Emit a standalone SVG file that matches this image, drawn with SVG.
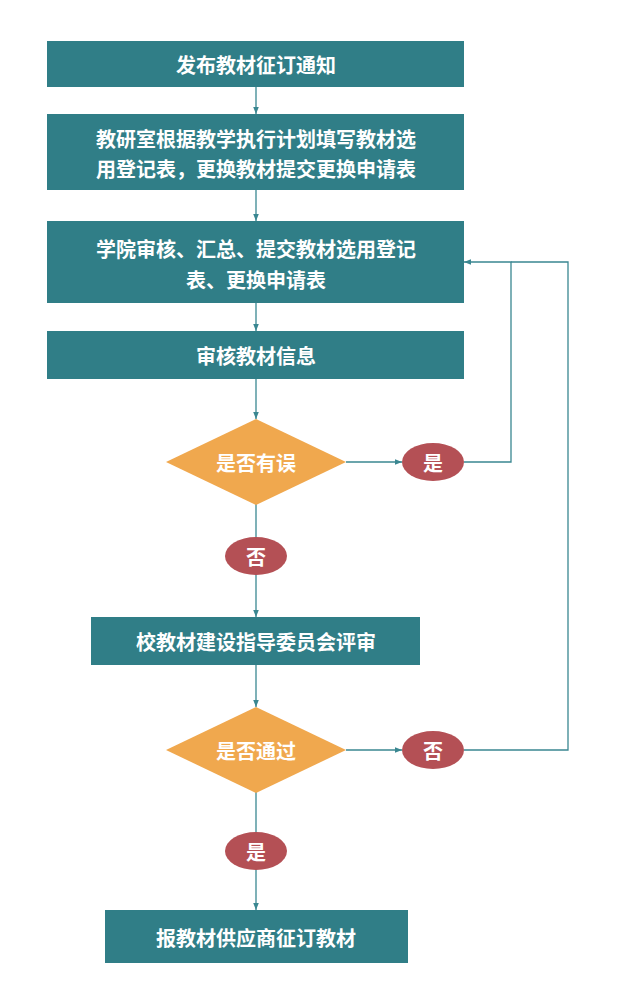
<svg xmlns="http://www.w3.org/2000/svg" width="627" height="984" viewBox="0 0 627 984">
<defs>
<marker id="ar" viewBox="0 0 10 10" refX="10" refY="5" markerWidth="7" markerHeight="7" orient="auto" markerUnits="userSpaceOnUse"><path d="M0,1 L10,5 L0,9 Z" fill="#3A8791"/></marker>
<style>
.b{fill:#307E87}
.d{fill:#F0A84E}
.e{fill:#B45055}
.t{font-family:"Noto Sans CJK SC",sans-serif;font-weight:bold;font-size:20px;fill:#fff;text-anchor:middle;dominant-baseline:central}
.c{fill:none;stroke:#3A8791;stroke-width:1.3;marker-end:url(#ar)}
.n{fill:none;stroke:#3A8791;stroke-width:1.3}
</style>
</defs>
<rect width="627" height="984" fill="#fff"/>
<g id="connectors">
<path class="c" d="M256,87 V114"/>
<path class="c" d="M256,190 V221"/>
<path class="c" d="M256,303 V331"/>
<path class="c" d="M256,379 V419"/>
<path class="c" d="M346,462 H402"/>
<path class="n" d="M256,504 V538"/>
<path class="c" d="M256,574 V617"/>
<path class="c" d="M256,665 V707"/>
<path class="c" d="M346,750 H402"/>
<path class="n" d="M256,792 V833"/>
<path class="c" d="M256,869 V910"/>
<path class="c" d="M464,462 H511 V262 H464"/>
<path class="n" d="M464,750 H568 V262 H511"/>
</g>
<g id="n1"><rect class="b" x="47" y="41" width="417" height="46"/><text class="t" x="256" y="64">发布教材征订通知</text></g>
<g id="n2"><rect class="b" x="47" y="114" width="417" height="76"/><text class="t" x="256" y="138">教研室根据教学执行计划填写教材选</text><text class="t" x="256" y="168">用登记表，更换教材提交更换申请表</text></g>
<g id="n3"><rect class="b" x="47" y="221" width="417" height="82"/><text class="t" x="256" y="248">学院审核、汇总、提交教材选用登记</text><text class="t" x="256" y="279">表、更换申请表</text></g>
<g id="n4"><rect class="b" x="47" y="331" width="417" height="48"/><text class="t" x="256" y="355">审核教材信息</text></g>
<g id="d1"><polygon class="d" points="256,419 346,462 256,505 166,462"/><text class="t" x="256" y="462">是否有误</text></g>
<g id="y1"><ellipse class="e" cx="433" cy="462" rx="31" ry="19"/><text class="t" x="433" y="462">是</text></g>
<g id="no1"><ellipse class="e" cx="256" cy="556" rx="31" ry="19"/><text class="t" x="256" y="556">否</text></g>
<g id="n5"><rect class="b" x="91" y="617" width="329" height="48"/><text class="t" x="256" y="641">校教材建设指导委员会评审</text></g>
<g id="d2"><polygon class="d" points="256,707 346,750 256,793 166,750"/><text class="t" x="256" y="750">是否通过</text></g>
<g id="no2"><ellipse class="e" cx="433" cy="750" rx="31" ry="19"/><text class="t" x="433" y="750">否</text></g>
<g id="y2"><ellipse class="e" cx="256" cy="851" rx="31" ry="19"/><text class="t" x="256" y="851">是</text></g>
<g id="n6"><rect class="b" x="105" y="910" width="303" height="53"/><text class="t" x="256" y="937">报教材供应商征订教材</text></g>
</svg>
